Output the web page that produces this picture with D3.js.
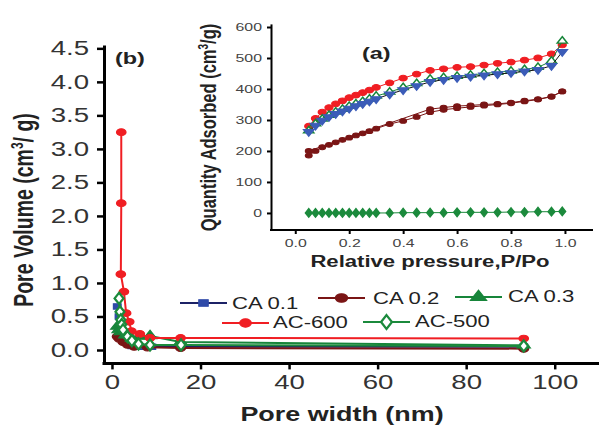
<!DOCTYPE html>
<html><head><meta charset="utf-8">
<script src="https://cdn.jsdelivr.net/npm/d3@7"></script>
<style>
body{margin:0;background:#fff}
svg{display:block}
text{font-family:"Liberation Sans",Arial,Helvetica,sans-serif}
</style>
</head><body>
<svg id="c" width="600" height="427"></svg>
<script>
// ---------- main panel (b): pore size distribution ----------
const poreXTicks = [0, 20, 40, 60, 80, 100];
const poreYTicks = [0, 0.5, 1.0, 1.5, 2.0, 2.5, 3.0, 3.5, 4.0, 4.5];

const ca01Width = [1.2, 1.6, 2.0, 3.0, 4.5, 6.0, 9.0, 15.5, 93];
const ca01Vol   = [0.65, 0.50, 0.30, 0.12, 0.06, 0.05, 0.05, 0.05, 0.05];

const ca02Width = [1.2, 1.6, 2.5, 3.5, 5.0, 8.0, 15.5, 93];
const ca02Vol   = [0.20, 0.17, 0.12, 0.08, 0.05, 0.04, 0.03, 0.02];

const ca03Width = [1.2, 1.5, 2.0, 3.0, 4.5, 6.3, 8.6, 15.5, 93];
const ca03Vol   = [0.35, 0.30, 0.27, 0.22, 0.17, 0.20, 0.21, 0.12, 0.07];

const ac600Width = [2.1, 2.1, 2.0, 2.7, 3.2, 3.9, 4.4, 6.3, 8.6, 15.5, 93];
const ac600Vol   = [3.25, 2.19, 1.13, 0.87, 0.55, 0.42, 0.28, 0.24, 0.18, 0.18, 0.17];

const ac500Width = [1.6, 1.8, 2.0, 2.2, 2.5, 3.5, 4.5, 6.0, 8.6, 15.6, 93];
const ac500Vol   = [0.77, 0.57, 0.45, 0.38, 0.30, 0.20, 0.14, 0.09, 0.075, 0.075, 0.06];

// ---------- inset (a): isotherms ----------
const isoXTicks = [0.0, 0.2, 0.4, 0.6, 0.8, 1.0];
const isoYTicks = [0, 100, 200, 300, 400, 500, 600];
const isoP = [0.05,0.075,0.1,0.125,0.15,0.175,0.2,0.225,0.25,0.275,0.3,0.35,0.4,0.45,0.5,0.55,0.6,0.65,0.7,0.75,0.8,0.85,0.9,0.95,0.99];
const isoAC600 = [280,305,325,340,352,362,372,380,388,396,405,420,435,448,460,465,470,472,477,483,487,493,500,513,542];
const isoCA01  = [262,282,298,310,320,328,337,345,352,360,368,383,397,410,423,430,436,440,444,448,452,457,462,475,520];
const isoCA03  = [265,288,303,315,326,335,344,352,360,368,377,390,405,418,432,437,441,445,450,454,458,463,470,490,555];
const isoCA02  = [185,200,212,220,228,236,243,250,257,264,272,287,297,310,325,333,338,342,346,350,354,360,366,375,392];
const isoCA02DesP = [0.05,0.5,0.55,0.6,0.65,0.7,0.75,0.8,0.85,0.9,0.95,0.99];
const isoCA02Des  = [200,335,340,345,347,350,352,356,362,367,376,392];
const isoAC500 = [0,0,0,0,0,0,0,0,0,0,0,0,1,1,1,1,2,2,2,2,3,3,4,4,5];

const legendLabels = ["CA 0.1", "CA 0.2", "CA 0.3", "AC-600", "AC-500"];

// ---------- styling ----------
const K = 1.38; // horizontal stretch of the original picture
const C = {
  ca01Line: "#1c2266", ca01: "#2f4aa8",
  ca02: "#7a1515", ca03: "#17853a",
  ac600: "#f01e23", ac500: "#1b8a3c",
  isoBlue: "#3b5cb8"
};

const svg = d3.select("#c");

function stretchTexts(sel) {
  sel.each(function () {
    const t = d3.select(this);
    const x = +t.attr("x") || 0, y = +t.attr("y") || 0;
    t.attr("x", 0).attr("y", 0).attr("transform", `translate(${x},${y}) scale(${K},1)`);
  });
}

// ===== Main panel =====
const x = d3.scaleLinear().domain([-1.8, 110]).range([104, 599]);
const y = d3.scaleLinear().domain([-0.2, 4.55]).range([363.4, 45]);

const gx = svg.append("g").attr("transform", `translate(0,${y.range()[0]})`)
  .call(d3.axisBottom(x).tickValues(poreXTicks).tickFormat(d3.format("d")).tickSize(6).tickPadding(5).tickSizeOuter(0));
const gy = svg.append("g").attr("transform", `translate(${x.range()[0]},0)`)
  .call(d3.axisLeft(y).tickValues(poreYTicks).tickFormat(d3.format(".1f")).tickSize(7).tickPadding(8).tickSizeOuter(0));
[gx, gy].forEach(g => {
  g.select(".domain").attr("stroke", "#000").attr("stroke-width", 3);
  g.selectAll(".tick line").attr("stroke", "#000").attr("stroke-width", 2.5);
  g.selectAll(".tick text").attr("font-size", 20).attr("fill", "#333");
  stretchTexts(g.selectAll(".tick text"));
});
gx.select(".domain").attr("d", `M${x.range()[0]-1.5},0H${x.range()[1]}`);

function marker(g, type, px, py, size, fill, stroke, sw) {
  g.append("path")
    .attr("d", d3.symbol().type(type).size(size)())
    .attr("transform", `translate(${px},${py}) scale(${K},1)`)
    .attr("fill", fill).attr("stroke", stroke).attr("stroke-width", sw || 1);
}

const mainSeries = [
  {w: ca01Width, v: ca01Vol, line: C.ca01Line, type: d3.symbolSquare, size: 30, fill: C.ca01, stroke: C.ca01},
  {w: ca02Width, v: ca02Vol, line: C.ca02, type: d3.symbolCircle, size: 40, fill: C.ca02, stroke: C.ca02},
  {w: ca03Width, v: ca03Vol, line: C.ca03, type: d3.symbolTriangle, size: 40, fill: C.ca03, stroke: C.ca03},
  {w: ac600Width, v: ac600Vol, line: C.ac600, type: d3.symbolCircle, size: 36, fill: C.ac600, stroke: C.ac600},
  {w: ac500Width, v: ac500Vol, line: C.ac500, type: d3.symbolDiamond, size: 36, fill: "#fff", stroke: C.ac500, sw: 1.8}
];
const lineMain = d3.line().x(d => x(d[0])).y(d => y(d[1]));
const gm = svg.append("g");
mainSeries.forEach(s => {
  const pts = s.w.map((w, i) => [w, s.v[i]]);
  gm.append("path").attr("d", lineMain(pts)).attr("fill", "none")
    .attr("stroke", s.line).attr("stroke-width", 2);
  pts.forEach(p => marker(gm, s.type, x(p[0]), y(p[1]), s.size, s.fill, s.stroke, s.sw));
});

// titles main
svg.append("text").attr("text-anchor", "middle").attr("font-size", 19.5).attr("font-weight", "bold")
  .attr("fill", "#222").attr("transform", `translate(342,421) scale(${K},1)`).text("Pore width (nm)");
const yt = svg.append("text").attr("text-anchor", "middle").attr("font-size", 19.5).attr("font-weight", "bold")
  .attr("fill", "#222").attr("transform", `translate(33,210) scale(${K},1) rotate(-90)`);
yt.append("tspan").text("Pore Volume (cm");
yt.append("tspan").attr("font-size", 12).attr("dy", -7).text("3");
yt.append("tspan").attr("dy", 7).text("/ g)");
svg.append("text").attr("font-size", 17).attr("font-weight", "bold").attr("fill", "#222")
  .attr("transform", `translate(115,64) scale(${K},1)`).text("(b)");

// legend
const legendItems = [
  {s: mainSeries[0], lx: 180, ly: 303, tx: 232, ty: 308.5},
  {s: mainSeries[1], lx: 318, ly: 298, tx: 373, ty: 303.5},
  {s: mainSeries[2], lx: 455, ly: 297, tx: 508, ty: 302},
  {s: mainSeries[3], lx: 222, ly: 323, tx: 273, ty: 327.5},
  {s: mainSeries[4], lx: 363, ly: 322, tx: 415, ty: 326.5}
];
const gl = svg.append("g");
legendItems.forEach((it, i) => {
  gl.append("line").attr("x1", it.lx).attr("x2", it.lx + 47).attr("y1", it.ly).attr("y2", it.ly)
    .attr("stroke", it.s.line).attr("stroke-width", 1.8);
  marker(gl, it.s.type, it.lx + 23.5, it.ly, it.s.size * 1.5, it.s.fill, it.s.stroke, it.s.sw);
  gl.append("text").attr("font-size", 16).attr("fill", "#222")
    .attr("transform", `translate(${it.tx},${it.ty}) scale(${K},1)`).text(legendLabels[i]);
});

// ===== Inset =====
const xi = d3.scaleLinear().domain([-0.09, 1.104]).range([271, 593]);
const yi = d3.scaleLinear().domain([-55, 610]).range([230, 23.9]);
const gxi = svg.append("g").attr("transform", `translate(0,${yi.range()[0]})`)
  .call(d3.axisBottom(xi).tickValues(isoXTicks).tickFormat(d3.format(".1f")).tickSize(4).tickPadding(5).tickSizeOuter(0));
const gyi = svg.append("g").attr("transform", `translate(${xi.range()[0]},0)`)
  .call(d3.axisLeft(yi).tickValues(isoYTicks).tickFormat(d3.format("d")).tickSize(4).tickPadding(5).tickSizeOuter(0));
[gxi, gyi].forEach(g => {
  g.select(".domain").attr("stroke", "#000").attr("stroke-width", 2);
  g.selectAll(".tick line").attr("stroke", "#000").attr("stroke-width", 2);
  g.selectAll(".tick text").attr("font-size", 11.5).attr("fill", "#444");
  stretchTexts(g.selectAll(".tick text"));
});
gxi.select(".domain").attr("d", `M${xi.range()[0]-1},0H${xi.range()[1]}`);

const lineIso = d3.line().x(d => xi(d[0])).y(d => yi(d[1]));
const isoSeries = [
  {p: isoP, v: isoAC500, line: C.ac500, type: d3.symbolDiamond, size: 22, fill: C.ac500, stroke: C.ac500},
  {p: isoCA02DesP, v: isoCA02Des, line: C.ca02, type: d3.symbolCircle, size: 18, fill: C.ca02, stroke: C.ca02},
  {p: isoP, v: isoCA02, line: C.ca02, type: d3.symbolCircle, size: 18, fill: C.ca02, stroke: C.ca02},
  {p: isoP, v: isoAC600, line: C.ac600, type: d3.symbolCircle, size: 26, fill: C.ac600, stroke: C.ac600},
  {p: isoP, v: isoCA03, line: C.ca03, type: d3.symbolTriangle, size: 24, fill: "#fff", stroke: C.ca03, sw: 1.2},
  {p: isoP, v: isoCA01, line: "#111", type: d3.symbolTriangle, size: 26, fill: C.isoBlue, stroke: C.isoBlue, flip: true}
];
const gi = svg.append("g");
isoSeries.forEach(s => {
  const pts = s.p.map((p, i) => [p, s.v[i]]);
  gi.append("path").attr("d", lineIso(pts)).attr("fill", "none").attr("stroke", s.line).attr("stroke-width", 1);
  pts.forEach(pt => {
    gi.append("path").attr("d", d3.symbol().type(s.type).size(s.size)())
      .attr("transform", `translate(${xi(pt[0])},${yi(pt[1])}) scale(${K},${s.flip ? -1 : 1})`)
      .attr("fill", s.fill).attr("stroke", s.stroke).attr("stroke-width", s.sw || 1);
  });
});

svg.append("text").attr("text-anchor", "middle").attr("font-size", 16).attr("font-weight", "bold")
  .attr("fill", "#222").attr("transform", `translate(430,267) scale(${K},1)`).text("Relative pressure,P/Po");
const yti = svg.append("text").attr("text-anchor", "middle").attr("font-size", 16.5).attr("font-weight", "bold")
  .attr("fill", "#222").attr("transform", `translate(216,127.5) scale(${K},1) rotate(-90)`);
yti.append("tspan").text("Quantity Adsorbed (cm");
yti.append("tspan").attr("font-size", 10).attr("dy", -6).text("3");
yti.append("tspan").attr("dy", 6).text("/g)");
svg.append("text").attr("font-size", 17).attr("font-weight", "bold").attr("fill", "#222")
  .attr("transform", `translate(362,59) scale(${K},1)`).text("(a)");
</script>
</body></html>
